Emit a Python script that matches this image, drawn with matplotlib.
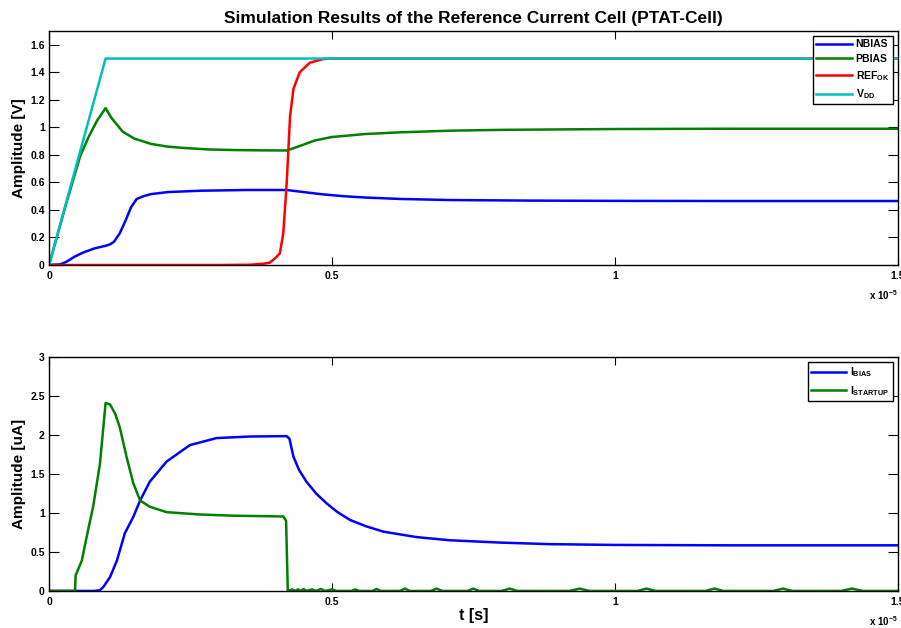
import numpy as np
import matplotlib
matplotlib.use('Agg')
import matplotlib.pyplot as plt
from matplotlib.ticker import FormatStrFormatter

plt.rcParams['font.family'] = ['Liberation Sans', 'DejaVu Sans']
plt.rcParams['font.weight'] = 'bold'
plt.rcParams['mathtext.fontset'] = 'custom'
plt.rcParams['mathtext.rm'] = 'Liberation Sans:bold'
plt.rcParams['mathtext.bf'] = 'Liberation Sans:bold'
plt.rcParams['mathtext.default'] = 'bf'

# time values in microseconds
vdd_t = [0, 1.0, 15]
vdd_v = [0, 1.5, 1.5]

pbias_t = [0, 0.3, 0.55, 0.7, 0.85, 1.0, 1.1, 1.3, 1.5, 1.8, 2.1, 2.4, 2.8, 3.3, 3.8, 4.2,
           4.4, 4.7, 5.0, 5.6, 6.2, 7.1, 8.0, 10, 12, 15]
pbias_v = [0, 0.44, 0.79, 0.93, 1.05, 1.14, 1.07, 0.97, 0.92, 0.88, 0.86, 0.85, 0.84, 0.835,
           0.833, 0.832, 0.86, 0.905, 0.93, 0.952, 0.964, 0.976, 0.982, 0.988, 0.99, 0.99]

nbias_t = [0, 0.2, 0.31, 0.45, 0.6, 0.8, 1.0, 1.08, 1.15, 1.25, 1.35, 1.45, 1.55, 1.67, 1.8,
           2.1, 2.7, 3.5, 4.2, 4.5, 4.8, 5.2, 5.6, 6.2, 7.1, 8.5, 10, 12, 15]
nbias_v = [0, 0.005, 0.024, 0.06, 0.09, 0.12, 0.14, 0.15, 0.17, 0.23, 0.32, 0.42, 0.48, 0.50,
           0.515, 0.53, 0.54, 0.545, 0.545, 0.53, 0.515, 0.50, 0.49, 0.48, 0.472, 0.468,
           0.466, 0.465, 0.465]

refok_t = [0, 3.0, 3.55, 3.8, 3.9, 4.0, 4.08, 4.14, 4.2, 4.26, 4.32, 4.43, 4.61, 4.85, 5.0, 15]
refok_v = [0, 0, 0.002, 0.01, 0.017, 0.05, 0.085, 0.23, 0.59, 1.08, 1.28, 1.40, 1.47, 1.497,
           1.5, 1.5]

ibias_t = [0, 0.8, 0.9, 0.96, 1.08, 1.2, 1.34, 1.49, 1.61, 1.78, 2.08, 2.49, 2.96, 3.55, 4.2,
           4.25, 4.32, 4.42, 4.55, 4.72, 4.91, 5.1, 5.32, 5.6, 5.91, 6.5, 7.08, 7.97, 8.85,
           10, 12, 15]
ibias_v = [0, 0, 0.01, 0.05, 0.18, 0.39, 0.74, 0.95, 1.16, 1.40, 1.66, 1.87, 1.96, 1.98, 1.985,
           1.95, 1.72, 1.55, 1.40, 1.25, 1.12, 1.01, 0.91, 0.83, 0.76, 0.69, 0.65, 0.62, 0.60,
           0.59, 0.585, 0.585]

istart_t = [0, 0.46, 0.47, 0.5, 0.58, 0.69, 0.78, 0.9, 1.0, 1.08, 1.17, 1.25, 1.37, 1.49, 1.61,
            1.78, 2.08, 2.67, 3.25, 4.14, 4.19, 4.21, 4.22,
            4.3, 4.35, 4.4, 4.45, 4.5, 4.55, 4.65, 4.72, 4.8, 4.88, 5.0, 5.08, 5.35, 5.41, 5.48,
            5.72, 5.79, 5.86, 6.2, 6.29, 6.38, 6.75, 6.85, 6.95, 7.4, 7.5, 7.6, 8.0, 8.14, 8.28,
            9.2, 9.38, 9.55, 10.4, 10.56, 10.72, 11.6, 11.76, 11.92, 12.8, 12.97, 13.14,
            14.0, 14.19, 14.38, 15]
istart_v = [0, 0, 0.2, 0.25, 0.39, 0.78, 1.08, 1.63, 2.41, 2.39, 2.27, 2.10, 1.72, 1.38, 1.16,
            1.08, 1.01, 0.98, 0.965, 0.955, 0.9, 0.3, 0,
            0.02, 0, 0.02, 0, 0.025, 0, 0.02, 0, 0.025, 0, 0.02, 0, 0, 0.02, 0,
            0, 0.025, 0, 0, 0.03, 0, 0, 0.03, 0, 0, 0.03, 0, 0, 0.03, 0,
            0, 0.03, 0, 0, 0.03, 0, 0, 0.03, 0, 0, 0.03, 0,
            0, 0.03, 0, 0]

x_ticks = [0, 5, 10, 15]
x_labels = ['0', '0.5', '1', '1.5']

BLUE = (0, 0, 1)
GREEN = (0, 0.5, 0)
RED = (1, 0, 0)
CYAN = (0, 0.75, 0.75)
LW = 1.8

fig = plt.figure(figsize=(9.01, 6.28), dpi=100)
ax1 = fig.add_axes([0.0544, 0.578, 0.942, 0.3726])
ax2 = fig.add_axes([0.0544, 0.059, 0.942, 0.3726])

us = 1e-6
ax1.plot(np.array(nbias_t) * us, nbias_v, color=BLUE, lw=LW, label='NBIAS')
ax1.plot(np.array(pbias_t) * us, pbias_v, color=GREEN, lw=LW, label='PBIAS')
ax1.plot(np.array(refok_t) * us, refok_v, color=RED, lw=LW, label='REF$_{OK}$')
ax1.plot(np.array(vdd_t) * us, vdd_v, color=CYAN, lw=LW, label='V$_{DD}$')
ax1.set_ylim(0, 1.7)
ax1.set_yticks(np.arange(0, 1.61, 0.2))
ax1.set_ylabel('Amplitude [V]', fontsize=11, fontweight='bold', labelpad=3)
ax1.set_title('Simulation Results of the Reference Current Cell (PTAT-Cell)',
              fontsize=12.5, fontweight='bold', pad=6)

ax2.plot(np.array(ibias_t) * us, ibias_v, color=BLUE, lw=LW, label='I$_{BIAS}$')
ax2.plot(np.array(istart_t) * us, istart_v, color=GREEN, lw=LW, label='I$_{STARTUP}$')
ax2.set_ylim(0, 3)
ax2.set_yticks(np.arange(0, 3.01, 0.5))
ax2.set_ylabel('Amplitude [uA]', fontsize=11, fontweight='bold', labelpad=3)
ax2.set_xlabel('t [s]', fontsize=11.5, fontweight='bold', labelpad=1)

for ax in (ax1, ax2):
    ax.set_xlim(0, 15 * us)
    ax.set_xticks(np.array(x_ticks) * us)
    ax.set_xticklabels(x_labels)
    ax.yaxis.set_major_formatter(FormatStrFormatter('%g'))
    ax.tick_params(axis='both', direction='in', top=True, right=True,
                   labelsize=7.5, width=0.8)
    ax.tick_params(axis='x', length=6, pad=4)
    ax.tick_params(axis='y', length=7, pad=3)
    for lab in ax.get_xticklabels() + ax.get_yticklabels():
        lab.set_fontweight('bold')
    for sp in ax.spines.values():
        sp.set_linewidth(1.0)
    ax.text(1.0, -0.13, r'x 10$^{-5}$', transform=ax.transAxes, ha='right', va='center',
            fontsize=7, fontweight='bold')
    leg = ax.legend(loc='upper right', fancybox=False, edgecolor='k', framealpha=1,
                    prop={'size': 7.5, 'weight': 'bold'}, handlelength=3.4,
                    borderaxespad=0.5, labelspacing=0.45, borderpad=0.3, handletextpad=0.4)
    leg.get_frame().set_linewidth(1.0)

fig.savefig('out.png', dpi=100)
